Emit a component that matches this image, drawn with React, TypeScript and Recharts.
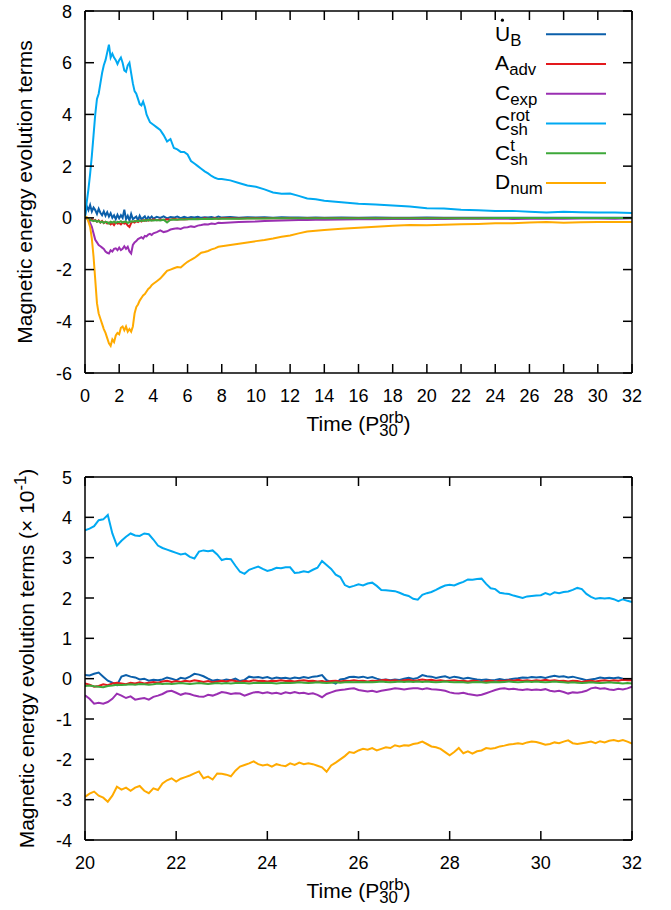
import React from 'react';
import { LineChart, Line, XAxis, YAxis, Legend } from 'recharts';

const FONT = '"Liberation Sans", Arial, Helvetica, sans-serif';

// ---------- series identity ----------
const seriesKeys = ['ub', 'aadv', 'cexp', 'crot', 'ct', 'dnum'];
const seriesColors: Record<string, string> = {
  ub: '#0b5faa',
  aadv: '#e3191d',
  cexp: '#9a2fb2',
  crot: '#00a9f2',
  ct: '#3ea83a',
  dnum: '#ffaa00',
};

// ---------- top panel (t = 0 .. 32) ----------
const topTime = [
  0, 0.1, 0.2, 0.3, 0.4, 0.5, 0.6, 0.7, 0.8, 0.9,
  1.0, 1.1, 1.2, 1.3, 1.4, 1.5, 1.6, 1.7, 1.8, 1.9,
  2.0, 2.1, 2.2, 2.3, 2.4, 2.5, 2.6, 2.7, 2.8, 2.9,
  3.0, 3.1, 3.2, 3.3, 3.4, 3.5, 3.6, 3.7, 3.8, 3.9,
  4.0,
  4.2, 4.4, 4.6, 4.8, 5.0, 5.2, 5.4, 5.6, 5.8, 6.0,
  6.2, 6.4, 6.6, 6.8, 7.0, 7.2, 7.4, 7.6, 7.8, 8.0,
  8.5, 9, 9.5, 10, 10.5, 11, 11.5, 12, 12.5, 13, 13.5, 14,
  15, 16, 17, 18, 19, 20, 21, 22, 23, 24, 25, 26, 27, 28, 29, 30, 31, 32,
];

const topUB = [
  0.1, 0.45, 0.3, 0.5, 0.25, 0.4, 0.3, 0.15, 0.35, 0.2,
  0.1, 0.25, 0.08, 0.22, 0.05, 0.18, 0.0, 0.1, -0.05, 0.12,
  -0.02, 0.1, 0.0, 0.32, -0.05, 0.08, -0.1, 0.15, -0.05, 0.0,
  0.05, -0.1, 0.08, -0.05, 0.0, 0.06, -0.08, 0.04, -0.02, 0.05,
  -0.03,
  0.04, 0.0, 0.06, -0.02, 0.03, 0.01, 0.05, -0.01, 0.04, 0.0,
  0.03, 0.01, 0.04, 0.0, 0.02, 0.01, 0.03, 0.0, 0.05, 0.01,
  0.03, 0.0, 0.02, 0.01, 0.02, 0.0, 0.02, 0.01, 0.01, 0.0, 0.01, 0.0,
  0.01, 0.0, 0.01, 0.0, 0.005, 0.009, 0.0, 0.005, 0.0, 0.004, 0.005, 0.0, 0.005, 0.0, 0.0, 0.004, 0.0, 0.0,
];

const topAadv = [
  0.05, 0.0, -0.05, -0.1, -0.05, -0.12, -0.08, -0.15, -0.1, -0.18,
  -0.12, -0.2, -0.15, -0.22, -0.18, -0.25, -0.2, -0.28, -0.18, -0.22,
  -0.2, -0.25, -0.18, -0.22, -0.2, -0.3, -0.35, -0.2, -0.15, -0.18,
  -0.12, -0.16, -0.1, -0.14, -0.09, -0.12, -0.08, -0.11, -0.07, -0.1,
  -0.06,
  -0.09, -0.06, -0.08, -0.05, -0.07, -0.04, -0.06, -0.05, -0.04, -0.05,
  -0.03, -0.04, -0.03, -0.04, -0.02, -0.03, -0.03, -0.02, -0.03, -0.02,
  -0.02, -0.025, -0.02, -0.015, -0.02, -0.015, -0.015, -0.01, -0.015, -0.01, -0.01, -0.01,
  -0.01, -0.01, -0.008, -0.008, -0.007, -0.01, -0.006, -0.006, -0.005, -0.006, -0.006, -0.005, -0.005, -0.005, -0.004, -0.004, -0.004, -0.004,
];

const topCexp = [
  0, -0.02, -0.1, -0.2, -0.35, -0.6, -0.85, -0.95, -1.05, -1.1,
  -1.15, -1.2, -1.3, -1.35, -1.38, -1.25, -1.3, -1.2, -1.18, -1.25,
  -1.15, -1.25, -1.2, -1.1, -1.2, -1.12, -1.3, -1.38, -1.05, -0.95,
  -0.9, -0.82, -0.78, -0.75, -0.8, -0.7, -0.72, -0.65, -0.62, -0.66,
  -0.6,
  -0.55, -0.48, -0.55, -0.52, -0.45, -0.42, -0.4, -0.43, -0.37, -0.36,
  -0.33, -0.35, -0.3, -0.28, -0.25, -0.26, -0.22, -0.24, -0.19, -0.2,
  -0.18, -0.16, -0.15, -0.14, -0.12, -0.11, -0.1, -0.09, -0.085, -0.08, -0.075, -0.07,
  -0.06, -0.055, -0.05, -0.045, -0.042, -0.041, -0.048, -0.037, -0.036, -0.035, -0.04, -0.03, -0.025, -0.036, -0.026, -0.028, -0.03, -0.02,
];

const topCrot = [
  0, 0.6, 1.1, 1.7, 2.4, 3.2, 4.0, 4.6, 4.8, 5.2,
  5.6, 5.9, 6.1, 6.4, 6.7, 6.2, 6.35, 6.2, 6.1, 5.95,
  6.1, 6.2, 6.0, 5.7, 5.65, 5.9, 6.0, 5.6, 5.2, 4.9,
  4.8, 4.6, 4.4, 4.35, 4.5, 4.3, 4.0, 3.85, 3.7, 3.65,
  3.6,
  3.5, 3.4, 3.2, 2.95, 3.05, 2.7, 2.65, 2.55, 2.55, 2.45,
  2.2, 2.1, 2.0, 1.9, 1.8, 1.72, 1.62, 1.55, 1.5, 1.5,
  1.45, 1.35, 1.25, 1.2, 1.1, 0.98, 0.93, 0.94, 0.85, 0.75, 0.72, 0.66,
  0.6, 0.55, 0.52, 0.48, 0.44, 0.37, 0.36, 0.31, 0.29, 0.27, 0.27, 0.236, 0.21, 0.235, 0.22, 0.207, 0.21, 0.19,
];

const topCt = [
  0.05, 0.0, -0.05, -0.08, -0.1, -0.12, -0.1, -0.15, -0.12, -0.18,
  -0.14, -0.2, -0.15, -0.17, -0.22, -0.15, -0.18, -0.14, -0.2, -0.15,
  -0.17, -0.13, -0.18, -0.15, -0.14, -0.2, -0.16, -0.13, -0.15, -0.12,
  -0.14, -0.11, -0.13, -0.1, -0.12, -0.09, -0.11, -0.08, -0.1, -0.09,
  -0.1,
  -0.08, -0.1, -0.07, -0.18, -0.07, -0.06, -0.07, -0.05, -0.06, -0.05,
  -0.05, -0.04, -0.05, -0.04, -0.04, -0.035, -0.04, -0.03, -0.035, -0.03,
  -0.03, -0.03, -0.025, -0.025, -0.022, -0.02, -0.02, -0.018, -0.017, -0.016, -0.015, -0.015,
  -0.014, -0.013, -0.013, -0.012, -0.012, -0.012, -0.012, -0.011, -0.011, -0.01, -0.01, -0.01, -0.01, -0.009, -0.009, -0.009, -0.009, -0.01,
];

const topDnum = [
  0, 0.02, -0.15, -0.35, -0.8, -1.5, -2.4, -3.3, -3.7, -3.9,
  -4.1, -4.3, -4.45, -4.65, -4.85, -4.95, -4.7, -4.8, -4.55, -4.45,
  -4.5, -4.25, -4.2, -4.35, -4.2, -4.4, -4.3, -4.4, -4.2, -3.7,
  -3.45, -3.35, -3.2, -3.1, -3.0, -2.95, -2.85, -2.75, -2.7, -2.6,
  -2.55,
  -2.45, -2.35, -2.2, -2.05, -2.0, -1.95, -1.9, -1.92, -1.8, -1.7,
  -1.62, -1.55, -1.45, -1.35, -1.32, -1.28, -1.22, -1.18, -1.12, -1.1,
  -1.05, -1.0, -0.95, -0.9, -0.86, -0.8, -0.73, -0.68, -0.6, -0.53, -0.5, -0.47,
  -0.42, -0.38, -0.34, -0.31, -0.28, -0.29, -0.27, -0.245, -0.235, -0.213, -0.21, -0.178, -0.165, -0.19, -0.172, -0.16, -0.158, -0.161,
];

const topXTicks = [0, 2, 4, 6, 8, 10, 12, 14, 16, 18, 20, 22, 24, 26, 28, 30, 32];
const topYTicks = [-6, -4, -2, 0, 2, 4, 6, 8];

// ---------- bottom panel (t = 20 .. 32, values in units of 10^-1) ----------
const bottomTime = Array.from({ length: 121 }, (_, i) => Math.round(200 + i) / 10);

const bottomUB = [
  0.09, 0.08, 0.12, 0.15, 0.05, -0.05, -0.1, -0.16, 0.05, 0.09,
  0.05, 0.03, -0.02, 0.0, -0.05, -0.03, -0.04, -0.02, 0.03, 0.0,
  -0.04, 0.02, 0.0, 0.05, 0.12, 0.1, 0.06, 0.0, -0.05, -0.03,
  -0.05, -0.02, -0.04, 0.0, -0.06, -0.03, 0.05, 0.03, 0.04, 0.02,
  0.04, 0.0, 0.03, 0.01, 0.02, 0.0, 0.03, 0.01, 0.04, 0.02,
  0.05, 0.06, 0.09, -0.04, -0.08, -0.12, -0.02, 0.0, 0.04, 0.05,
  0.03, 0.05, 0.02, 0.04, 0.0, -0.03, -0.02, -0.04, -0.02, -0.03,
  0.0, 0.02, -0.01, 0.02, 0.09, 0.06, 0.05, 0.02, 0.04, 0.06,
  0.02, 0.05, 0.03, 0.0, 0.02, 0.0, -0.02, -0.03, -0.02, -0.04,
  -0.03, -0.01, -0.03, -0.02, 0.0, 0.01, 0.03, 0.02, 0.04, 0.03,
  0.04, 0.02, 0.05, 0.07, 0.05, 0.06, 0.03, 0.05, 0.02, -0.01,
  -0.04, -0.02, 0.0, 0.03, 0.01, 0.02, 0.01, 0.03, 0.0, -0.02,
  -0.02,
];

const bottomAadv = [
  -0.12, -0.15, -0.2, -0.18, -0.14, -0.16, -0.12, -0.1, -0.12, -0.14,
  -0.1, -0.12, -0.09, -0.12, -0.1, -0.08, -0.1, -0.07, -0.05, -0.08,
  -0.06, -0.08, -0.05, -0.07, -0.04, -0.06, -0.08, -0.06, -0.09, -0.07,
  -0.05, -0.07, -0.04, -0.06, -0.08, -0.05, -0.07, -0.04, -0.06, -0.05,
  -0.07, -0.05, -0.06, -0.04, -0.06, -0.05, -0.07, -0.05, -0.04, -0.06,
  -0.05, -0.07, -0.06, -0.08, -0.06, -0.05, -0.07, -0.05, -0.06, -0.04,
  -0.06, -0.05, -0.07, -0.05, -0.06, -0.04, -0.03, -0.05, -0.04, -0.06,
  -0.04, -0.03, -0.05, -0.04, -0.02, -0.04, -0.03, -0.05, -0.04, -0.06,
  -0.05, -0.04, -0.06, -0.05, -0.07, -0.05, -0.06, -0.08, -0.06, -0.05,
  -0.07, -0.05, -0.06, -0.04, -0.05, -0.03, -0.05, -0.04, -0.06, -0.04,
  -0.05, -0.03, -0.05, -0.04, -0.06, -0.05, -0.07, -0.05, -0.06, -0.08,
  -0.06, -0.05, -0.07, -0.05, -0.04, -0.06, -0.04, -0.05, -0.03, -0.04,
  -0.04,
];

const bottomCexp = [
  -0.41, -0.5, -0.62, -0.6, -0.62, -0.58, -0.5, -0.37, -0.42, -0.48,
  -0.44, -0.52, -0.5, -0.48, -0.52, -0.45, -0.42, -0.38, -0.32, -0.3,
  -0.35, -0.4, -0.36, -0.38, -0.42, -0.44, -0.45, -0.4, -0.42, -0.38,
  -0.33, -0.35, -0.38, -0.36, -0.37, -0.42, -0.38, -0.34, -0.33, -0.36,
  -0.34, -0.37, -0.35, -0.38, -0.34, -0.36, -0.33, -0.36, -0.35, -0.38,
  -0.36, -0.4, -0.46, -0.38, -0.34, -0.3, -0.28, -0.27, -0.25, -0.24,
  -0.28, -0.3, -0.32, -0.3, -0.33, -0.3, -0.28, -0.26, -0.24, -0.25,
  -0.27, -0.25, -0.24, -0.24, -0.26, -0.24, -0.26, -0.27, -0.28, -0.3,
  -0.34, -0.36, -0.37, -0.35, -0.38, -0.4, -0.42, -0.4, -0.36, -0.32,
  -0.28, -0.25, -0.24, -0.26, -0.25, -0.27, -0.28, -0.26, -0.28, -0.27,
  -0.28, -0.26, -0.3, -0.32, -0.3, -0.33, -0.37, -0.34, -0.35, -0.33,
  -0.3, -0.24, -0.22, -0.25, -0.24, -0.27, -0.28, -0.25, -0.27, -0.24,
  -0.2,
];

const bottomCrot = [
  3.68, 3.72, 3.78, 3.93, 3.95, 4.06, 3.6, 3.3, 3.42, 3.52,
  3.6, 3.55, 3.54, 3.6, 3.58, 3.45, 3.3, 3.24, 3.2, 3.16,
  3.12, 3.08, 3.1, 3.02, 2.98, 3.15, 3.18, 3.16, 3.18, 3.08,
  2.94, 2.97, 2.96, 2.8, 2.65, 2.6, 2.7, 2.74, 2.78, 2.72,
  2.67, 2.7, 2.75, 2.74, 2.76, 2.76, 2.62, 2.63, 2.66, 2.64,
  2.7, 2.75, 2.92, 2.82, 2.72, 2.58, 2.52, 2.32, 2.27, 2.3,
  2.34, 2.31, 2.36, 2.38, 2.3, 2.2, 2.19, 2.18, 2.17, 2.13,
  2.08, 2.05, 1.98, 1.96, 2.08, 2.12, 2.15, 2.2, 2.26, 2.31,
  2.33, 2.31, 2.36, 2.4, 2.46, 2.45, 2.47, 2.48, 2.35, 2.24,
  2.22, 2.13, 2.11, 2.1, 2.06, 2.03, 2.0, 2.04, 2.05, 2.06,
  2.07, 2.12, 2.08, 2.14, 2.12, 2.15, 2.16, 2.2, 2.25, 2.22,
  2.1, 2.03, 1.98, 2.0, 1.99, 2.0, 1.97, 1.92, 1.97, 1.93,
  1.9,
];

const bottomCt = [
  -0.18, -0.17, -0.19, -0.2, -0.21, -0.18, -0.17, -0.15, -0.16, -0.15,
  -0.14, -0.15, -0.13, -0.14, -0.15, -0.14, -0.12, -0.13, -0.12, -0.13,
  -0.12, -0.11, -0.12, -0.13, -0.12, -0.11, -0.12, -0.13, -0.12, -0.11,
  -0.12, -0.11, -0.12, -0.11, -0.1, -0.11, -0.12, -0.11, -0.1, -0.11,
  -0.1, -0.11, -0.12, -0.11, -0.1, -0.11, -0.1, -0.09, -0.1, -0.11,
  -0.1, -0.09, -0.1, -0.11, -0.1, -0.09, -0.1, -0.09, -0.08, -0.09,
  -0.08, -0.09, -0.08, -0.09, -0.08, -0.07, -0.08, -0.09, -0.08, -0.07,
  -0.08, -0.07, -0.08, -0.07, -0.08, -0.07, -0.08, -0.09, -0.08, -0.07,
  -0.08, -0.09, -0.08, -0.09, -0.1, -0.09, -0.08, -0.09, -0.1, -0.09,
  -0.08, -0.09, -0.08, -0.07, -0.08, -0.09, -0.08, -0.07, -0.08, -0.07,
  -0.08, -0.09, -0.08, -0.07, -0.08, -0.09, -0.1, -0.09, -0.1, -0.11,
  -0.1, -0.09, -0.1, -0.11, -0.1, -0.09, -0.1, -0.11, -0.12, -0.11,
  -0.12,
];

const bottomDnum = [
  -2.93, -2.85, -2.8, -2.9, -2.95, -3.05, -2.9, -2.68, -2.75, -2.7,
  -2.78, -2.7, -2.66, -2.78, -2.84, -2.72, -2.76, -2.6, -2.52, -2.47,
  -2.55, -2.48, -2.44, -2.4, -2.35, -2.3, -2.47, -2.43, -2.5, -2.35,
  -2.36, -2.38, -2.42, -2.28, -2.18, -2.14, -2.1, -2.05, -2.12, -2.15,
  -2.13, -2.18, -2.12, -2.15, -2.17, -2.1, -2.14, -2.08, -2.12, -2.1,
  -2.12, -2.16, -2.2, -2.31, -2.15, -2.08, -2.0, -1.92, -1.82, -1.84,
  -1.78, -1.74, -1.76, -1.72, -1.78, -1.74, -1.7, -1.72, -1.65, -1.68,
  -1.65, -1.66, -1.62, -1.6, -1.56, -1.62, -1.68, -1.7, -1.74, -1.82,
  -1.9, -1.82, -1.72, -1.85, -1.8, -1.86, -1.8, -1.78, -1.72, -1.74,
  -1.72, -1.68, -1.66, -1.63, -1.62, -1.6, -1.62, -1.58, -1.56, -1.57,
  -1.6, -1.64, -1.62, -1.58, -1.6, -1.56, -1.53, -1.6, -1.62, -1.6,
  -1.58, -1.56, -1.6, -1.55, -1.58, -1.54, -1.52, -1.55, -1.52, -1.56,
  -1.61,
];

const bottomXTicks = [20, 22, 24, 26, 28, 30, 32];
const bottomYTicks = [-4, -3, -2, -1, 0, 1, 2, 3, 4, 5];

// ---------- tables built from the arrays ----------
const topData = topTime.map((t, i) => ({
  t,
  ub: topUB[i],
  aadv: topAadv[i],
  cexp: topCexp[i],
  crot: topCrot[i],
  ct: topCt[i],
  dnum: topDnum[i],
}));

const bottomData = bottomTime.map((t, i) => ({
  t,
  ub: bottomUB[i],
  aadv: bottomAadv[i],
  cexp: bottomCexp[i],
  crot: bottomCrot[i],
  ct: bottomCt[i],
  dnum: bottomDnum[i],
}));

// ---------- legend label pieces ----------
const legendText: Record<string, { main: string; sub: string; sup?: string; dot?: boolean; w: number }> = {
  ub: { main: 'U', sub: 'B', dot: true, w: 15.2 },
  aadv: { main: 'A', sub: 'adv', w: 14.2 },
  cexp: { main: 'C', sub: 'exp', w: 15.2 },
  crot: { main: 'C', sub: 'sh', sup: 'rot', w: 15.2 },
  ct: { main: 'C', sub: 'sh', sup: 't', w: 15.2 },
  dnum: { main: 'D', sub: 'num', w: 15.2 },
};

// ---------- axis decorations (inward ticks like gnuplot) ----------
const TICK = 9;
const AX = { stroke: '#000', strokeWidth: 1.5 };

const BottomTick = (p: any) => (
  <g>
    <line x1={p.x} x2={p.x} y1={p.y} y2={p.y - TICK} {...AX} />
    <text x={p.x} y={p.y + 29} textAnchor="middle" fontFamily={FONT} fontSize={18} fill="#000">
      {p.payload.value}
    </text>
  </g>
);
const TopTick = (p: any) => (
  <line x1={p.x} x2={p.x} y1={p.y} y2={p.y + TICK} {...AX} />
);
const LeftTick = (p: any) => (
  <g>
    <line x1={p.x} x2={p.x + TICK} y1={p.y} y2={p.y} {...AX} />
    <text x={p.x - 13} y={p.y + 6.5} textAnchor="end" fontFamily={FONT} fontSize={18} fill="#000">
      {p.payload.value}
    </text>
  </g>
);
const RightTick = (p: any) => (
  <line x1={p.x} x2={p.x - TICK} y1={p.y} y2={p.y} {...AX} />
);

const XLabel = (p: any) => {
  const vb = p.viewBox || { x: 85, y: 373, width: 547, height: 1 };
  const cx = vb.x + vb.width / 2;
  const y = vb.y + 58;
  return (
    <text x={cx} y={y} textAnchor="middle" fontFamily={FONT} fontSize={21} fill="#000">
      <tspan>Time (P</tspan>
      <tspan fontSize={16.8} dy={-8}>orb</tspan>
      <tspan fontSize={16.8} dx={-24.3} dy={13}>30</tspan>
      <tspan dx={5.6} dy={-5}>)</tspan>
    </text>
  );
};

const YLabelTop = (p: any) => {
  const vb = p.viewBox || { x: 84, y: 11, width: 1, height: 362 };
  const cx = 31.7;
  const cy = vb.y + vb.height / 2;
  return (
    <text x={cx} y={cy} transform={`rotate(-90 ${cx} ${cy})`} textAnchor="middle" fontFamily={FONT} fontSize={21} fill="#000">
      Magnetic energy evolution terms
    </text>
  );
};

const YLabelBottom = (p: any) => {
  const vb = p.viewBox || { x: 84, y: 37, width: 1, height: 363 };
  const cx = 34;
  const cy = vb.y + vb.height / 2;
  return (
    <text x={cx} y={cy} transform={`rotate(-90 ${cx} ${cy})`} textAnchor="middle" fontFamily={FONT} fontSize={21} fill="#000">
      <tspan>Magnetic energy evolution terms (× 10</tspan>
      <tspan fontSize={16.8} dy={-8}>-1</tspan>
      <tspan dy={8}>)</tspan>
    </text>
  );
};

const renderLegend = (props: any) => {
  const items = [...(props.payload || [])].sort(
    (a: any, b: any) => seriesKeys.indexOf(a.dataKey) - seriesKeys.indexOf(b.dataKey)
  );
  const x0 = 495;
  const y0 = 34.3;
  const step = 29.75;
  return (
    <svg
      width={671}
      height={440}
      style={{ position: 'absolute', left: 0, top: 0, overflow: 'visible', pointerEvents: 'none' }}
    >
      {items.map((it: any, i: number) => {
        const lt = legendText[it.dataKey];
        const y = y0 + i * step;
        const base = y + 6.4;
        return (
          <g key={it.dataKey}>
            <text x={x0} y={base} fontFamily={FONT} fontSize={21} fill="#000">{lt.main}</text>
            {lt.dot && (
              <circle cx={x0 + 7.4} cy={base - 20.5} r={1.6} fill="#000" />
            )}
            <text x={x0 + lt.w} y={base + 5} fontFamily={FONT} fontSize={16.8} fill="#000">{lt.sub}</text>
            {lt.sup && (
              <text x={x0 + lt.w} y={base - 8.5} fontFamily={FONT} fontSize={16.8} fill="#000">{lt.sup}</text>
            )}
            <line x1={546} x2={606} y1={y} y2={y} stroke={it.color} strokeWidth={2} />
          </g>
        );
      })}
    </svg>
  );
};

const renderLines = () =>
  seriesKeys.map((k) => (
    <Line
      key={k}
      type="linear"
      dataKey={k}
      name={k}
      stroke={seriesColors[k]}
      strokeWidth={2}
      dot={false}
      activeDot={false}
      isAnimationActive={false}
    />
  ));

const axisCommon = {
  allowDataOverflow: true,
  interval: 0 as const,
  tickSize: 0,
  tickMargin: 0,
  tickLine: false,
  axisLine: AX,
};

const TopChart = () => (
  <LineChart width={671} height={440} data={topData} margin={{ top: 10, right: 38, bottom: 66, left: 84 }}>
    <XAxis {...axisCommon} type="number" dataKey="t" domain={[0, 32]} ticks={topXTicks} height={1} tick={BottomTick} label={<XLabel />} />
    <XAxis {...axisCommon} xAxisId="top" orientation="top" type="number" dataKey="t" domain={[0, 32]} ticks={topXTicks} height={1} tick={TopTick} />
    <YAxis {...axisCommon} type="number" domain={[-6, 8]} ticks={topYTicks} width={1} tick={LeftTick} label={<YLabelTop />} />
    <YAxis {...axisCommon} yAxisId="right" orientation="right" type="number" domain={[-6, 8]} ticks={topYTicks} width={1} tick={RightTick} />
    {renderLines()}
    <Legend
      content={renderLegend}
      wrapperStyle={{ left: 0, top: 0, width: 0, height: 0, overflow: 'visible', margin: 0, padding: 0 }}
    />
  </LineChart>
);

const BottomChart = () => (
  <LineChart width={671} height={470} data={bottomData} margin={{ top: 36, right: 38, bottom: 69, left: 84 }}>
    <XAxis {...axisCommon} type="number" dataKey="t" domain={[20, 32]} ticks={bottomXTicks} height={1} tick={BottomTick} label={<XLabel />} />
    <XAxis {...axisCommon} xAxisId="top" orientation="top" type="number" dataKey="t" domain={[20, 32]} ticks={bottomXTicks} height={1} tick={TopTick} />
    <YAxis {...axisCommon} type="number" domain={[-4, 5]} ticks={bottomYTicks} width={1} tick={LeftTick} label={<YLabelBottom />} />
    <YAxis {...axisCommon} yAxisId="right" orientation="right" type="number" domain={[-4, 5]} ticks={bottomYTicks} width={1} tick={RightTick} />
    {renderLines()}
  </LineChart>
);

export default function App() {
  return (
    <div style={{ position: 'absolute', left: 0, top: 0, width: 671, height: 910, background: '#fff' }}>
      <div style={{ position: 'absolute', left: 0, top: 0 }}>
        <TopChart />
      </div>
      <div style={{ position: 'absolute', left: 0, top: 440 }}>
        <BottomChart />
      </div>
    </div>
  );
}
